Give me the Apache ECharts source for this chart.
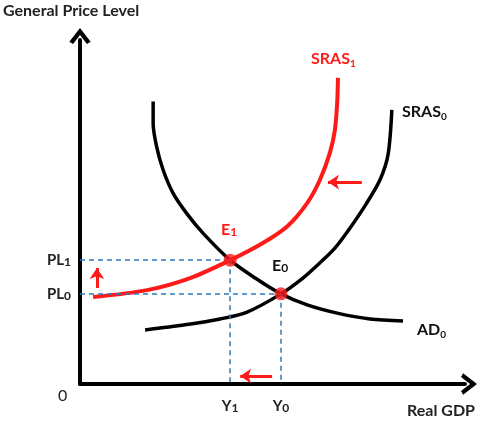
<!DOCTYPE html>
<html>
<head>
<meta charset="utf-8">
<script src="https://cdn.jsdelivr.net/npm/echarts@6/dist/echarts.min.js"></script>
<style>
  html, body { margin: 0; padding: 0; background: #fff; }
  #chart { width: 477px; height: 425px; }
</style>
</head>
<body>
<div id="chart"></div>
<script>
// curves (x = real GDP, y = price level, arbitrary units 0-100)
const adCurve = [[19.0, 82.1], [19.0, 75.8], [19.9, 69.0], [21.6, 62.2], [24.2, 55.4], [27.7, 49.6], [32.0, 43.8], [39.0, 36.0], [45.5, 30.8], [52.2, 26.2], [59.0, 23.0], [66.8, 20.6], [75.3, 18.9], [83.9, 18.3]];
const sras0 = [[16.9, 15.7], [27.3, 17.2], [36.4, 18.9], [43.4, 20.9], [52.2, 26.2], [57.9, 30.8], [62.3, 35.2], [66.2, 39.5], [70.1, 45.3], [74.3, 52.3], [77.9, 59.3], [80.0, 66.6], [81.0, 79.7]];
const sras1 = [[3.4, 25.3], [17.4, 27.3], [28.6, 30.8], [39.0, 36.0], [47.5, 41.0], [53.8, 45.8], [59.0, 52.6], [62.3, 59.3], [64.9, 67.2], [66.2, 73.8], [66.8, 81.7], [67.0, 89.0]];
const equilibria = [[52.2, 26.2], [39.0, 36.0]];
const yTicks = [26.2, 36.0];
const yTickNames = ['PL{s|0}', 'PL{s|1}'];
const xTicks = [39.0, 52.2];
const xTickNames = ['Y{s|1}', 'Y{s|0}'];
const shiftArrows = [
  [[73.2, 58.7], [64.4, 58.7]],
  [[4.4, 27.9], [4.4, 33.7]],
  [[49.9, 2.3], [41.6, 2.3]]
];

const RED = '#ff1a1a';
const BLUE = '#2b7bc0';
const FONT = 'Lato';
const chevron = 'path://M0,13 L10,0 L20,13 L16.5,15 L10,6.5 L3.5,15 Z';

const guides = [];
equilibria.forEach(p => {
  guides.push([{ coord: [0, p[1]] }, { coord: p }]);
  guides.push([{ coord: p }, { coord: [p[0], 0] }]);
});

const sub = (fill, size, pad) => ({ fill: fill, fontSize: size, fontWeight: 'bold', fontFamily: FONT, verticalAlign: 'bottom', padding: [pad, 0, 0, 0] });

const chart = echarts.init(document.getElementById('chart'));
chart.setOption({
  backgroundColor: '#fff',
  animation: false,
  grid: { left: 80, right: 12, top: 40, bottom: 41 },
  xAxis: {
    type: 'value',
    min: 0,
    max: 100,
    splitLine: { show: false },
    axisTick: { show: false },
    axisLine: {
      lineStyle: { color: '#000', width: 4 },
      symbol: ['none', chevron],
      symbolSize: [22, 16],
      symbolOffset: [0, 4]
    },
    axisLabel: {
      customValues: xTicks,
      margin: 14,
      formatter: v => xTickNames[xTicks.indexOf(v)],
      color: '#222',
      fontFamily: FONT,
      fontWeight: 'bold',
      fontSize: 15,
      rich: { s: { fontSize: 12, fontWeight: 'bold', fontFamily: FONT, verticalAlign: 'bottom', padding: [4, 0, 0, 0] } }
    }
  },
  yAxis: {
    type: 'value',
    min: 0,
    max: 100,
    splitLine: { show: false },
    axisTick: { show: false },
    axisLine: {
      lineStyle: { color: '#000', width: 4 },
      symbol: ['none', chevron],
      symbolSize: [22, 16],
      symbolOffset: [0, 4]
    },
    axisLabel: {
      customValues: yTicks,
      margin: 9,
      formatter: v => yTickNames[yTicks.indexOf(v)],
      color: '#222',
      fontFamily: FONT,
      fontWeight: 'bold',
      fontSize: 15,
      rich: { s: { fontSize: 12, fontWeight: 'bold', fontFamily: FONT, verticalAlign: 'bottom', padding: [4, 0, 0, 0] } }
    }
  },
  series: [
    {
      type: 'line',
      data: [],
      markLine: {
        silent: true,
        symbol: ['none', 'none'],
        label: { show: false },
        lineStyle: { color: BLUE, type: [5, 4], width: 1.5 },
        data: guides
      }
    },
    {
      name: 'AD0', type: 'line', smooth: 0.3, showSymbol: false,
      data: adCurve, lineStyle: { color: '#000', width: 3.5 }
    },
    {
      name: 'SRAS0', type: 'line', smooth: 0.3, showSymbol: false,
      data: sras0, lineStyle: { color: '#000', width: 3.5 }
    },
    {
      name: 'SRAS1', type: 'line', smooth: 0.3, showSymbol: false,
      data: sras1, lineStyle: { color: RED, width: 4 }
    },
    {
      type: 'line',
      data: [],
      markLine: {
        silent: true,
        symbol: ['none', 'arrow'],
        symbolSize: [11, 11],
        label: { show: false },
        lineStyle: { color: RED, type: 'solid', width: 3 },
        data: shiftArrows.map(a => [{ coord: a[0] }, { coord: a[1] }])
      }
    },
    {
      type: 'scatter',
      data: equilibria,
      symbolSize: 13,
      itemStyle: { color: RED },
      z: 5
    }
  ],
  graphic: [
    { type: 'text', left: 3, top: 3, style: { text: 'General Price Level', font: 'bold 16px Lato', fill: '#222' } },
    { type: 'text', right: 2, top: 403, style: { text: 'Real GDP', font: 'bold 16px Lato', fill: '#222' } },
    { type: 'text', left: 58, top: 388, style: { text: '0', font: '16px Lato', fill: '#222' } },
    {
      type: 'text', left: 311, top: 51,
      style: { text: 'SRAS{s|1}', fill: RED, font: 'bold 16px Lato', rich: { s: sub(RED, 10, 9) } }
    },
    {
      type: 'text', left: 402, top: 104,
      style: { text: 'SRAS{s|0}', fill: '#111', font: 'bold 16px Lato', rich: { s: sub('#111', 10, 9) } }
    },
    {
      type: 'text', left: 417, top: 322,
      style: { text: 'AD{s|0}', fill: '#111', font: 'bold 16px Lato', rich: { s: sub('#111', 10, 9) } }
    },
    {
      type: 'text', left: 221, top: 222,
      style: { text: 'E{s|1}', fill: RED, font: 'bold 16px Lato', rich: { s: sub(RED, 12, 4) } }
    },
    {
      type: 'text', left: 272, top: 258,
      style: { text: 'E{s|0}', fill: '#111', font: 'bold 16px Lato', rich: { s: sub('#111', 12, 4) } }
    }
  ]
});
</script>
</body>
</html>
